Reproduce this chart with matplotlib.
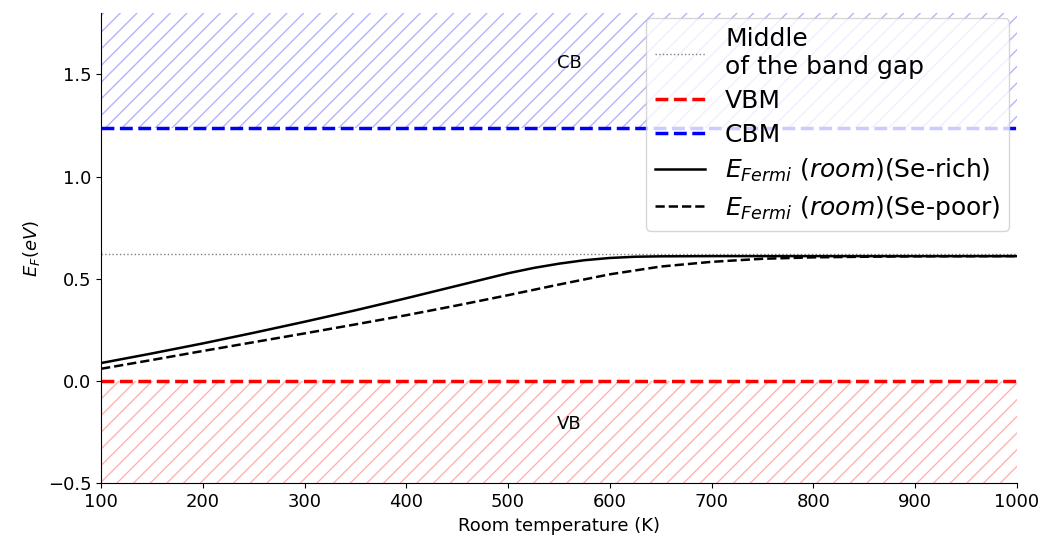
import matplotlib
matplotlib.use("Agg")
import matplotlib.pyplot as plt
import numpy as np

# Data
temps_rich = [100, 150, 200, 250, 300, 350, 400, 450, 500, 525, 550, 575, 600, 625, 650, 700, 800, 900, 1000]
ef_se_rich = [0.088, 0.135, 0.184, 0.236, 0.290, 0.346, 0.405, 0.466, 0.527, 0.553, 0.574, 0.591, 0.602, 0.608, 0.610, 0.611, 0.611, 0.611, 0.611]
temps_poor = [100, 150, 200, 250, 300, 350, 400, 450, 500, 550, 600, 650, 700, 750, 800, 850, 900, 1000]
ef_se_poor = [0.060, 0.103, 0.147, 0.190, 0.233, 0.277, 0.322, 0.370, 0.420, 0.472, 0.522, 0.560, 0.583, 0.598, 0.605, 0.608, 0.610, 0.611]
vbm = 0.0
cbm = 1.24
mid_gap = 0.62
y_min, y_max = -0.5, 1.8

plt.rcParams['hatch.linewidth'] = 1.0
fig = plt.figure(figsize=(10.45, 5.43), dpi=100)
ax = fig.add_axes([0.0967, 0.110, 0.8763, 0.866])

ax.fill_between([100, 1000], cbm, y_max, facecolor='none', hatch='//',
                edgecolor=(0, 0, 1, 0.3), linewidth=0)
ax.fill_between([100, 1000], y_min, vbm, facecolor='none', hatch='//',
                edgecolor=(1, 0, 0, 0.3), linewidth=0)

ax.axhline(mid_gap, color='gray', linestyle=':', linewidth=1, label='Middle\nof the band gap')
ax.axhline(vbm, color='red', linestyle='--', linewidth=2.5, label='VBM')
ax.axhline(cbm, color='blue', linestyle='--', linewidth=2.5, label='CBM')
ax.plot(temps_rich, ef_se_rich, color='black', linestyle='-', linewidth=1.8,
        label='$E_{Fermi}$ $(room)$(Se-rich)')
ax.plot(temps_poor, ef_se_poor, color='black', linestyle='--', linewidth=1.8,
        label='$E_{Fermi}$ $(room)$(Se-poor)')

ax.text(560, 1.555, 'CB', fontsize=13, ha='center', va='center')
ax.text(560, -0.21, 'VB', fontsize=13, ha='center', va='center')

ax.set_xlim(100, 1000)
ax.set_ylim(y_min, y_max)
ax.set_xticks(range(100, 1001, 100))
ax.set_yticks([-0.5, 0.0, 0.5, 1.0, 1.5])
ax.tick_params(labelsize=13)
ax.set_xlabel('Room temperature (K)', fontsize=13)
ax.set_ylabel('$E_F(eV)$', fontsize=13)
ax.spines['top'].set_visible(False)
ax.spines['right'].set_visible(False)

ax.legend(loc='upper right', bbox_to_anchor=(1.0, 1.005), fontsize=18,
          framealpha=0.8, handlelength=2.0, labelspacing=0.4, borderaxespad=0.3,
          borderpad=0.35)

fig.savefig('out.png', dpi=100)
